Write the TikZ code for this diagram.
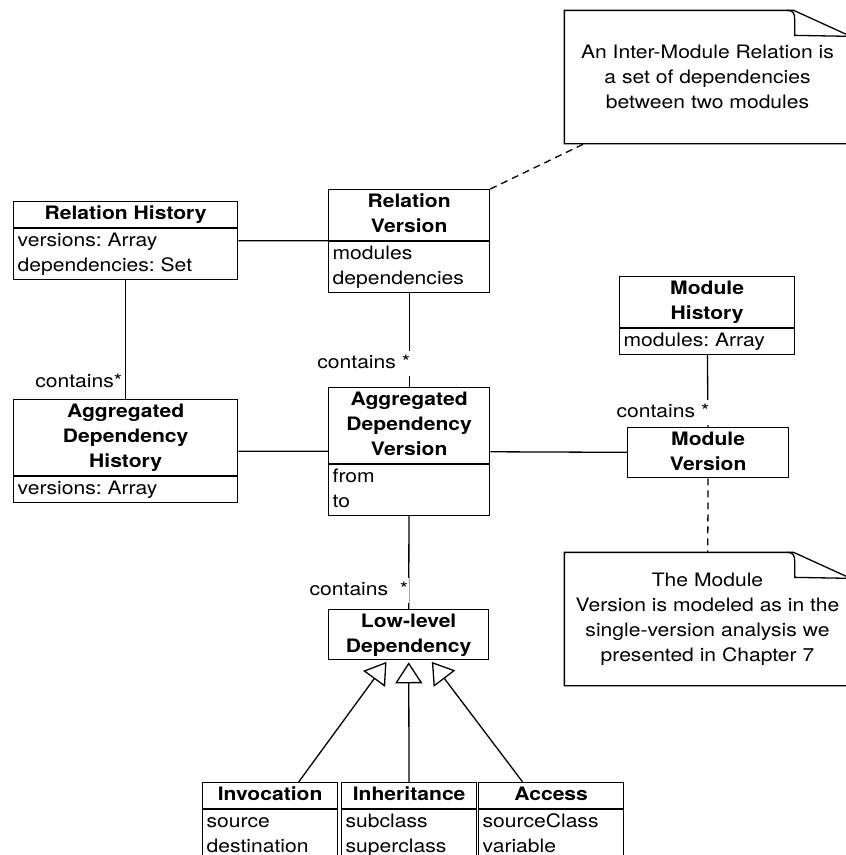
\documentclass[tikz,border=0pt]{standalone}
\usepackage{fontspec}
\setmainfont{TeX Gyre Heros}[FakeStretch=1.14]
\usetikzlibrary{shapes.multipart,arrows.meta}
\newcommand{\umlfont}{\fontsize{18.5}{25}\selectfont\frenchspacing}
% class with name and attribute compartments: name, top left, text width, title, attributes
\newcommand{\umlclass}[5]{
  \node[classbox] (#1) at (#2)
    {\parbox[t]{#3}{\centering\bfseries\strut #4\strut}%
     \nodepart{two}\parbox[t]{#3}{\raggedright\strut #5\strut}};
}
% class with a name compartment only
\newcommand{\umlhead}[4]{
  \node[headbox] (#1) at (#2) {\parbox[t]{#3}{\centering\bfseries\strut #4\strut}};
}
% frame of a note, with the folded corner top right
\newcommand{\notefold}[1]{
  \draw (#1.south west) -- (#1.north west) -- ([xshift=-57pt]#1.north east)
    -- ([yshift=-26pt]#1.north east) -- (#1.south east) -- cycle;
  \draw ([xshift=-64pt]#1.north east) .. controls ([xshift=-57pt]#1.north east)
    and ([xshift=-56pt,yshift=-3pt]#1.north east) .. ([xshift=-56pt,yshift=-9pt]#1.north east)
    -- ([xshift=-56pt,yshift=-25pt]#1.north east) -- ([yshift=-26pt]#1.north east);
}
\tikzset{
  classbox/.style={draw, rectangle split, rectangle split parts=2, anchor=north west,
                   inner xsep=4pt, inner ysep=0pt},
  headbox/.style={draw, anchor=north west, inner xsep=4pt, inner ysep=0pt},
  notebox/.style={minimum width=285pt, minimum height=132pt, inner sep=0pt, align=center},
  role/.style={fill=white, inner xsep=1pt, inner ysep=0pt, anchor=east,
               execute at begin node=\strut},
  dashline/.style={dash pattern=on 7pt off 5pt},
  isa/.style={-{Triangle[open, length=21pt, width=27pt]}, shorten >=2pt}
}

\begin{document}
\begin{tikzpicture}[x=1pt, y=-1pt, line width=1.3pt, font=\umlfont]
	\useasboundingbox (0,0) rectangle (846,855);
	\clip (0,0) rectangle (846,855);

	% classes
	\umlclass{RH}{13,201}{216pt}{Relation History}{versions: Array\\dependencies: Set}
	\umlclass{RV}{328,189}{153pt}{Relation\\Version}{modules\\dependencies}
	\umlclass{ADH}{13,399}{216pt}{Aggregated\\Dependency\\History}{versions: Array}
	\umlclass{ADV}{328,387}{153pt}{Aggregated\\Dependency\\Version}{from\\to}
	\umlclass{MH}{619,276}{167pt}{Module\\History}{modules: Array}
	\umlhead{MV}{627,427}{153pt}{Module\\Version}
	\umlhead{LLD}{328,609}{152pt}{Low-level\\Dependency}
	\umlclass{INV}{202,782}{127pt}{Invocation}{source\\destination}
	\umlclass{INH}{341,782}{127pt}{Inheritance}{subclass\\superclass}
	\umlclass{ACC}{478,782}{137pt}{Access}{sourceClass\\variable}

	% notes
	\node[notebox] (relnote) at (707.5,77)
		{An Inter-Module Relation is\\a set of dependencies\\between two modules};
	\notefold{relnote}
	\node[notebox] (modnote) at (707.5,619)
		{The Module\\Version is modeled as in the\\single-version analysis we\\presented in Chapter 7};
	\notefold{modnote}

	% associations
	\draw (RH) -- (RV);
	\draw (ADH) -- (ADV);
	\draw (ADV) -- (MV);
	\draw (RH) -- node[role, pos=0.86, xshift=-2pt] {contains*} (ADH);
	\draw (RV) -- node[role, pos=0.755, xshift=2.5pt] {contains *} (ADV);
	\draw (MH) -- node[role, pos=0.8, xshift=3pt] {contains *} (MV);
	\draw (ADV) -- node[role, pos=0.8, xshift=1pt] {contains\ \ *} (LLD);

	% note links
	\draw[dashline] (RV.north east) -- ([xshift=20pt]relnote.south west);
	\draw[dashline] (MV) -- (modnote);

	% generalizations
	\draw[isa] ([xshift=28.5pt]INV.north) -- ([xshift=-21pt]LLD.south);
	\draw[isa] (INH) -- (LLD);
	\draw[isa] ([xshift=-28.5pt]ACC.north) -- ([xshift=22pt]LLD.south);
\end{tikzpicture}
\end{document}
